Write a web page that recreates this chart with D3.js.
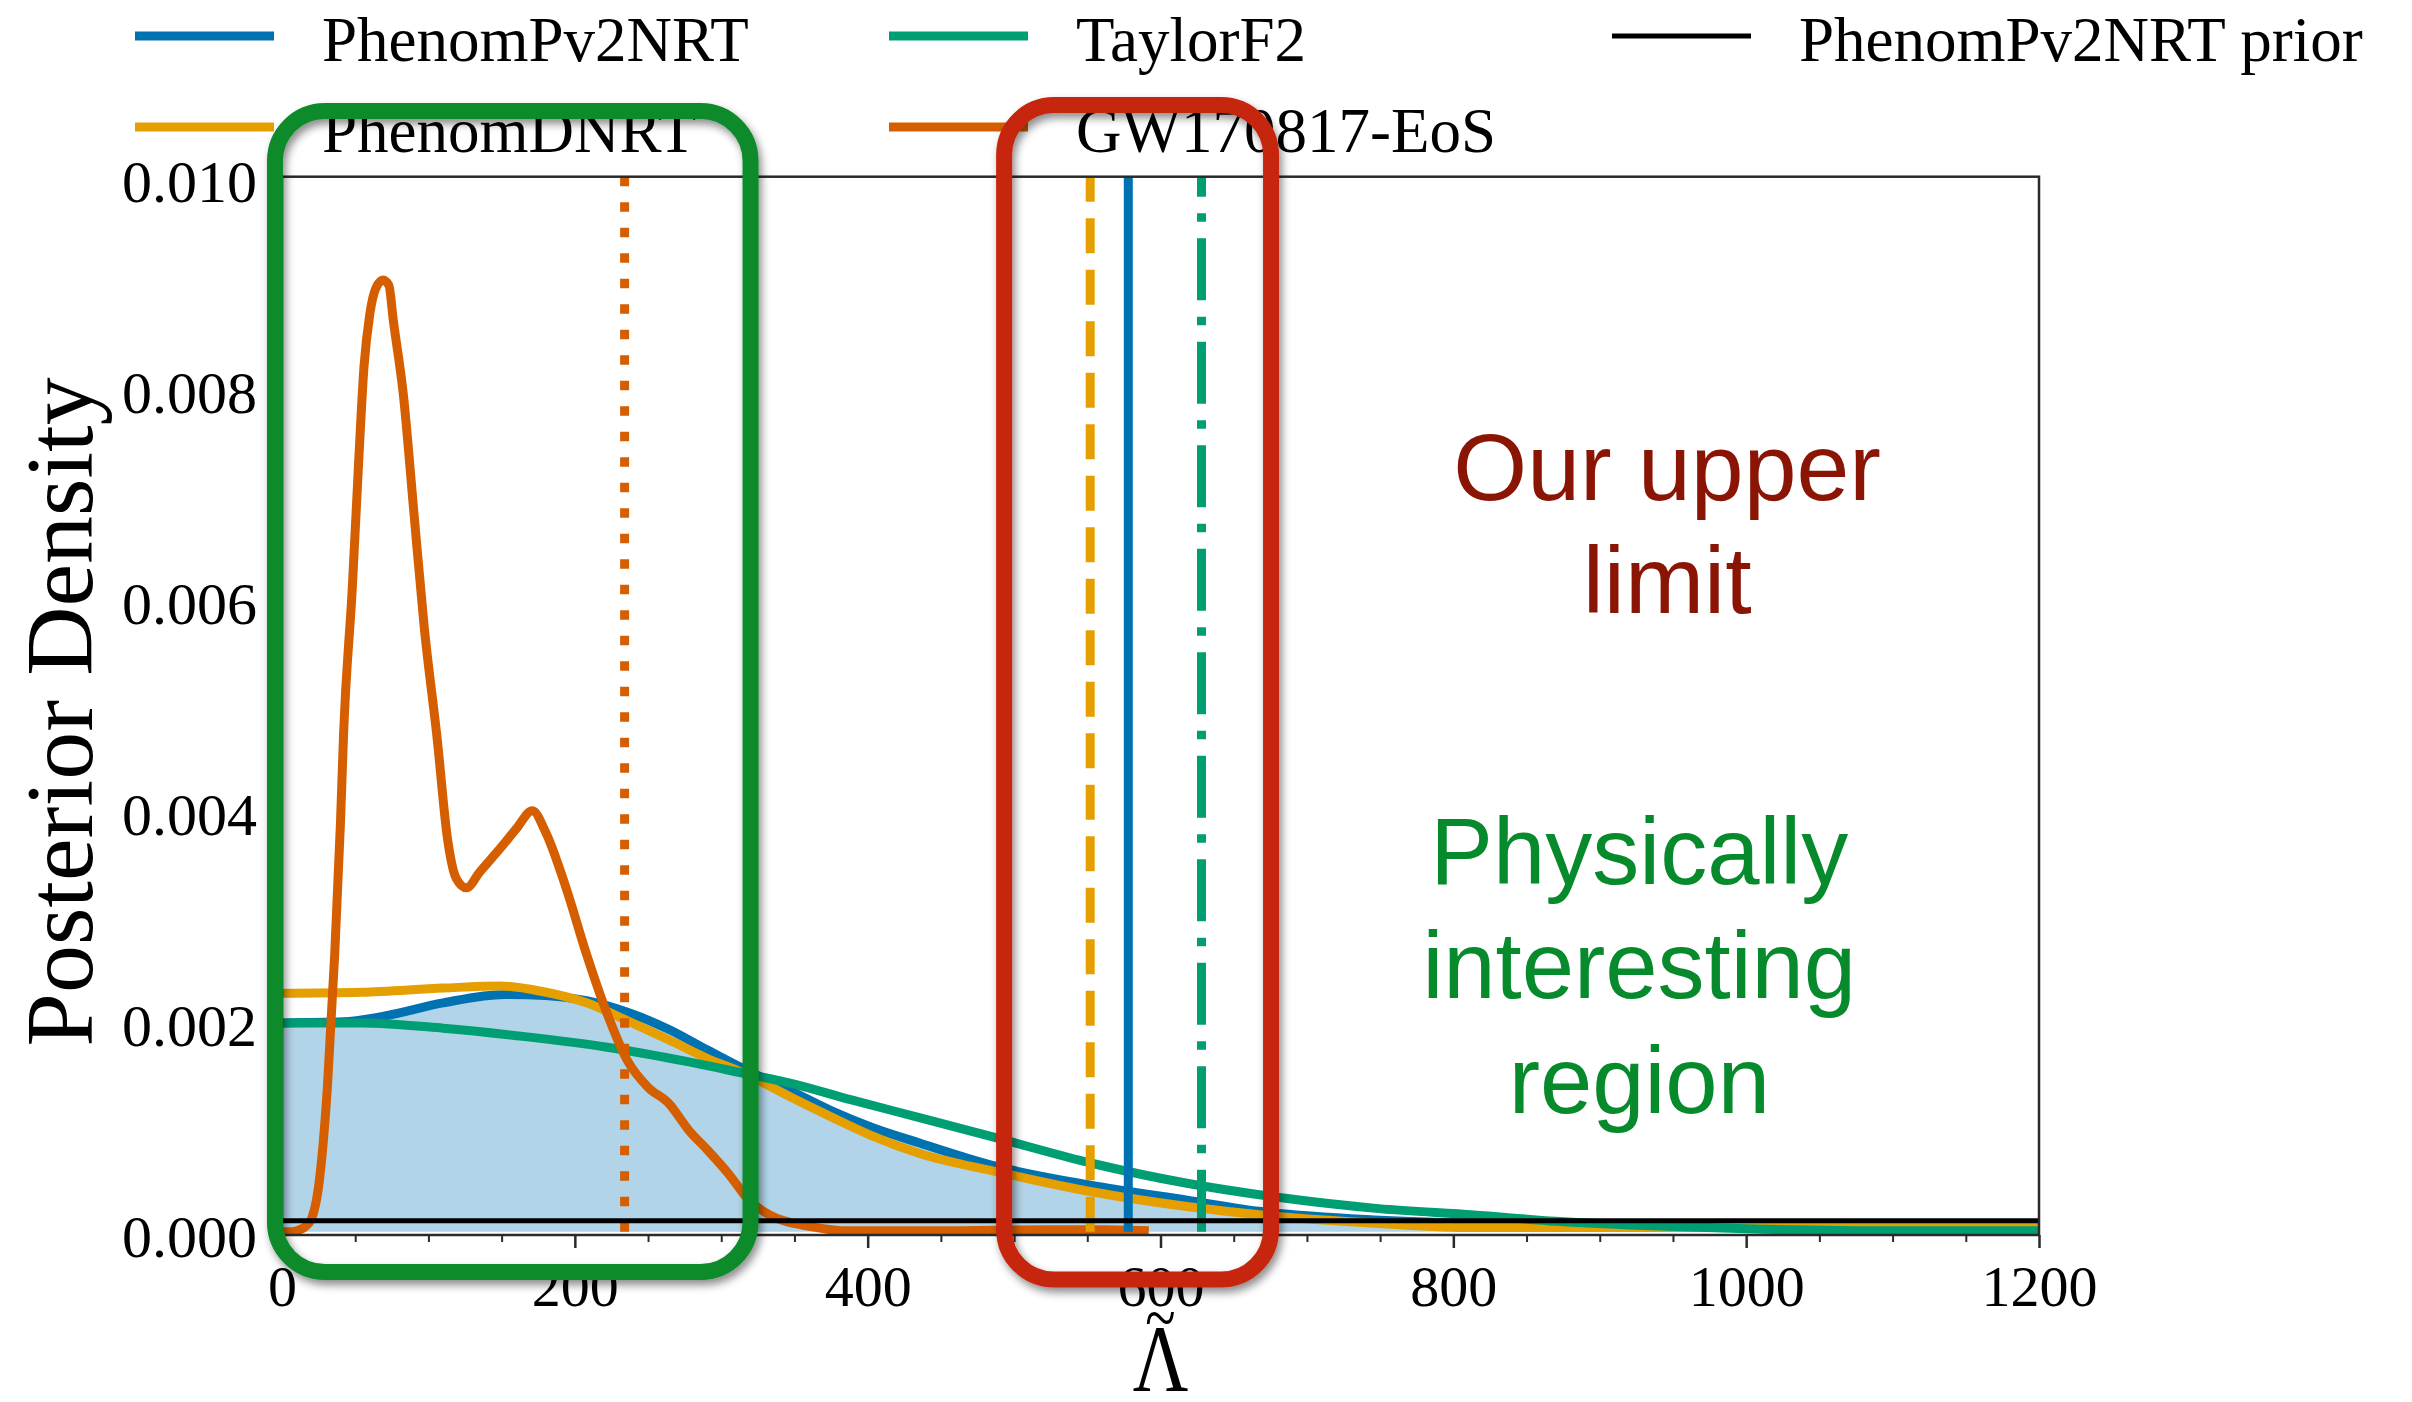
<!DOCTYPE html>
<html>
<head>
<meta charset="utf-8">
<script src="https://cdn.jsdelivr.net/npm/d3@7"></script>
<style>
  html, body { margin: 0; padding: 0; background: #ffffff; }
  svg { display: block; }
</style>
</head>
<body>
<svg id="chart" width="2412" height="1402"></svg>
<script>
// ---------------- DATA ----------------
const seriesNames = ["PhenomPv2NRT", "PhenomDNRT", "TaylorF2", "GW170817-EoS", "PhenomPv2NRT prior"];
const seriesColors = ["#0072B2", "#E69F00", "#009E73", "#D55E00", "#000000"];

// PhenomPv2NRT posterior
const pv2Lambda  = [0, 42, 68, 110, 152, 180, 208, 236, 264, 291, 316, 347, 375, 403, 436, 488, 553, 618, 670, 750, 850, 1000, 1200];
const pv2Density = [0.00198, 0.00199, 0.00204, 0.00217, 0.00225, 0.00224, 0.00219, 0.00208, 0.00192, 0.00172, 0.00154, 0.00134, 0.00115, 0.00099, 0.00084, 0.00062, 0.00044, 0.00030, 0.00019, 0.00011, 0.00007, 0.00005, 0.00005];

// PhenomDNRT posterior
const dLambda  = [0, 54, 110, 149, 177, 208, 236, 264, 291, 316, 347, 375, 403, 436, 488, 553, 618, 684, 749, 814, 1000, 1200];
const dDensity = [0.00226, 0.00227, 0.00231, 0.00233, 0.00228, 0.00217, 0.00200, 0.00182, 0.00164, 0.00150, 0.00128, 0.00109, 0.00091, 0.00074, 0.00057, 0.00038, 0.00024, 0.00014, 0.00008, 0.00004, 0.00004, 0.00004];

// TaylorF2 posterior
const tf2Lambda  = [0, 54, 110, 166, 222, 278, 316, 347, 389, 436, 488, 553, 618, 684, 749, 814, 870, 930, 1000, 1100, 1200];
const tf2Density = [0.00198, 0.00198, 0.00193, 0.00185, 0.00175, 0.00161, 0.00150, 0.00141, 0.00125, 0.00108, 0.00089, 0.00065, 0.00046, 0.00032, 0.00022, 0.00016, 0.00010, 0.00006, 0.00003, 0.00001, 0.00001];

// GW170817-EoS posterior
const eosLambda  = [0, 5, 10, 15, 20, 25, 31, 36, 40, 42, 48, 52, 56, 60, 64, 69, 73, 76, 83, 90, 97, 106, 113, 119, 126, 135, 150, 160, 171, 180, 194, 208, 222, 236, 250, 264, 278, 291, 305, 319, 333, 361, 389, 450, 520, 560, 592];
const eosDensity = [0.0, 0.0, 0.00001, 0.00004, 0.00012, 0.00043, 0.00137, 0.00263, 0.0039, 0.0047, 0.0061, 0.0072, 0.0082, 0.0087, 0.00894, 0.00902, 0.00897, 0.00864, 0.00792, 0.00683, 0.00575, 0.00467, 0.00373, 0.00335, 0.00326, 0.00341, 0.00365, 0.00382, 0.00399, 0.00379, 0.00326, 0.00263, 0.00207, 0.00162, 0.00137, 0.00122, 0.00096, 0.00077, 0.00055, 0.00030, 0.00016, 0.00005, 0.00001, 0.00001, 0.00002, 0.00002, 0.00001];

// PhenomPv2NRT prior
const priorLambda  = [0, 1200];
const priorDensity = [0.000105, 0.000105];

// vertical marker lines (Lambda values)
const eosMarker = 234;
const dMarker   = 552;
const pv2Marker = 578;
const tf2Marker = 628;

// axes
const xTicks       = [0, 200, 400, 600, 800, 1000, 1200];
const xTickLabels  = ["0", "200", "400", "600", "800", "1000", "1200"];
const xMinorTicks  = [50, 100, 150, 250, 300, 350, 450, 500, 550, 650, 700, 750, 850, 900, 950, 1050, 1100, 1150];
const yTicks       = [0, 0.002, 0.004, 0.006, 0.008, 0.010];
const yTickLabels  = ["0.000", "0.002", "0.004", "0.006", "0.008", "0.010"];
const xLabelBase   = "\u039B";
const xLabelAccent = "~";
const yLabel       = "Posterior Density";

// annotation boxes (data units: Lambda, density)
const greenBoxLambda  = [-4.8, 320.0];
const greenBoxDensity = [0.010623, -0.000381];
const redBoxLambda    = [493.2, 675.5];
const redBoxDensity   = [0.010679, -0.000452];

// annotation texts
const upperLimitLines   = ["Our upper", "limit"];
const upperLimitLambda  = 946;
const upperLimitDensity = [0.006935, 0.005864];
const physicalLines     = ["Physically", "interesting", "region"];
const physicalLambda    = 927;
const physicalDensity   = [0.003297, 0.002216, 0.001126];

// ---------------- DRAWING ----------------
const svg = d3.select("#chart");
const serif = "'Liberation Serif', 'Times New Roman', serif";
const sans  = "'Liberation Sans', Arial, Helvetica, sans-serif";

const x = d3.scaleLinear().domain([0, 1200]).range([282, 2039]);
const y = d3.scaleLinear().domain([-0.00003, 0.010]).range([1235, 176.7]);

const defs = svg.append("defs");
const f = defs.append("filter").attr("id", "shadow")
  .attr("x", "-20%").attr("y", "-5%").attr("width", "140%").attr("height", "110%");
f.append("feDropShadow").attr("dx", 3).attr("dy", 5).attr("stdDeviation", 4)
  .attr("flood-color", "#000").attr("flood-opacity", 0.45);

defs.append("clipPath").attr("id", "plotclip").append("rect")
  .attr("x", x(0)).attr("y", y(0.010)).attr("width", x(1200) - x(0)).attr("height", y(-0.00003) - y(0.010));

const zip = (a, b) => a.map((v, i) => [v, b[i]]);
const line = d3.line().x(d => x(d[0])).y(d => y(d[1])).curve(d3.curveMonotoneX);
const area = d3.area().x(d => x(d[0])).y0(y(0)).y1(d => y(d[1])).curve(d3.curveMonotoneX);

const plot = svg.append("g").attr("clip-path", "url(#plotclip)");

// filled PhenomPv2NRT posterior
plot.append("path").datum(zip(pv2Lambda, pv2Density))
  .attr("d", area).attr("fill", seriesColors[0]).attr("fill-opacity", 0.3);

const LW = 9;
plot.append("path").datum(zip(pv2Lambda, pv2Density)).attr("d", line)
  .attr("fill", "none").attr("stroke", seriesColors[0]).attr("stroke-width", LW);
plot.append("path").datum(zip(dLambda, dDensity)).attr("d", line)
  .attr("fill", "none").attr("stroke", seriesColors[1]).attr("stroke-width", LW);
plot.append("path").datum(zip(tf2Lambda, tf2Density)).attr("d", line)
  .attr("fill", "none").attr("stroke", seriesColors[2]).attr("stroke-width", LW);
plot.append("path").datum(zip(eosLambda, eosDensity)).attr("d", line)
  .attr("fill", "none").attr("stroke", seriesColors[3]).attr("stroke-width", LW)
  .attr("stroke-linejoin", "round");

// vertical markers
function vline(val, color, dash) {
  plot.append("line")
    .attr("x1", x(val)).attr("x2", x(val))
    .attr("y1", y(0)).attr("y2", y(0.010))
    .attr("stroke", color).attr("stroke-width", LW)
    .attr("stroke-dasharray", dash);
}
vline(eosMarker, seriesColors[3], "9.5,16");
vline(dMarker, seriesColors[1], "35,16.5");
vline(pv2Marker, seriesColors[0], null);
vline(tf2Marker, seriesColors[2], "62,16.5,8.5,16.5");

// prior
plot.append("path").datum(zip(priorLambda, priorDensity)).attr("d", d3.line().x(d => x(d[0])).y(d => y(d[1])))
  .attr("fill", "none").attr("stroke", seriesColors[4]).attr("stroke-width", 5);

// frame
svg.append("rect")
  .attr("x", x(0)).attr("y", y(0.010))
  .attr("width", x(1200) - x(0)).attr("height", y(-0.00003) - y(0.010))
  .attr("fill", "none").attr("stroke", "#2a2a2a").attr("stroke-width", 2.5);

// x axis
const xAxis = svg.append("g").attr("transform", `translate(0,${y(-0.00003)})`)
  .call(d3.axisBottom(x).tickValues(xTicks).tickSize(13).tickPadding(0).tickFormat((d, i) => xTickLabels[i]));
xAxis.select(".domain").remove();
xAxis.selectAll(".tick line").attr("stroke", "#2a2a2a").attr("stroke-width", 2.5);
xAxis.selectAll(".tick text").attr("font-family", serif).attr("font-size", 58)
  .attr("fill", "#000").attr("dy", null).attr("y", 71);

const xMinor = svg.append("g").attr("transform", `translate(0,${y(-0.00003)})`)
  .call(d3.axisBottom(x).tickValues(xMinorTicks).tickSize(7).tickFormat(""));
xMinor.select(".domain").remove();
xMinor.selectAll(".tick line").attr("stroke", "#2a2a2a").attr("stroke-width", 2);

// y axis
const yAxis = svg.append("g").attr("transform", `translate(${x(0)},0)`)
  .call(d3.axisLeft(y).tickValues(yTicks).tickSize(12).tickPadding(0).tickFormat((d, i) => yTickLabels[i]));
yAxis.select(".domain").remove();
yAxis.selectAll(".tick line").attr("stroke", "#2a2a2a").attr("stroke-width", 2.5);
yAxis.selectAll(".tick text").attr("font-family", serif).attr("font-size", 60)
  .attr("fill", "#000").attr("x", -25).attr("dy", null).attr("y", 25)
  .attr("dominant-baseline", "alphabetic");

// axis labels
svg.append("text")
  .attr("transform", `translate(92,${(y(0.010) + y(-0.00003)) / 2 + 6}) rotate(-90)`)
  .attr("text-anchor", "middle").attr("font-family", serif).attr("font-size", 96)
  .attr("fill", "#000").text(yLabel);

const xMid = (x(0) + x(1200)) / 2;
const xl = svg.append("text")
  .attr("transform", `translate(${xMid},0) scale(0.8,1)`)
  .attr("text-anchor", "middle").attr("font-family", serif).attr("fill", "#000");
xl.append("tspan").attr("x", 0).attr("y", 1341).attr("font-size", 70).text(xLabelAccent);
xl.append("tspan").attr("x", 0).attr("y", 1391).attr("font-size", 96).text(xLabelBase);

// legend
const legendCols = [135, 889, 1612];
const legendRows = [36, 127];
const legendOrder = [[0, 0, 0], [1, 0, 1], [2, 1, 0], [3, 1, 1], [4, 2, 0]]; // series, col, row
const legend = svg.append("g");
legendOrder.forEach(([s, c, r]) => {
  legend.append("line")
    .attr("x1", legendCols[c]).attr("x2", legendCols[c] + 139)
    .attr("y1", legendRows[r]).attr("y2", legendRows[r])
    .attr("stroke", seriesColors[s]).attr("stroke-width", s === 4 ? 5 : 9);
  legend.append("text")
    .attr("x", legendCols[c] + 187).attr("y", legendRows[r] + 25)
    .attr("font-family", serif).attr("font-size", 63).attr("fill", "#000")
    .text(seriesNames[s]);
});

// annotation texts
upperLimitLines.forEach((t, i) => {
  svg.append("text").attr("x", x(upperLimitLambda)).attr("y", y(upperLimitDensity[i]))
    .attr("text-anchor", "middle").attr("font-family", sans).attr("font-size", 95)
    .attr("fill", "#8A1505").text(t);
});
physicalLines.forEach((t, i) => {
  svg.append("text").attr("x", x(physicalLambda)).attr("y", y(physicalDensity[i]))
    .attr("text-anchor", "middle").attr("font-family", sans).attr("font-size", 94)
    .attr("fill", "#078A2B").text(t);
});

// highlight boxes
function box(lam, dens, color) {
  svg.append("rect")
    .attr("x", x(lam[0])).attr("y", y(dens[0]))
    .attr("width", x(lam[1]) - x(lam[0])).attr("height", y(dens[1]) - y(dens[0]))
    .attr("rx", 50).attr("ry", 50)
    .attr("fill", "none").attr("stroke", color).attr("stroke-width", 16)
    .attr("filter", "url(#shadow)");
}
box(greenBoxLambda, greenBoxDensity, "#088A2C");
box(redBoxLambda, redBoxDensity, "#C6260A");
</script>
</body>
</html>
